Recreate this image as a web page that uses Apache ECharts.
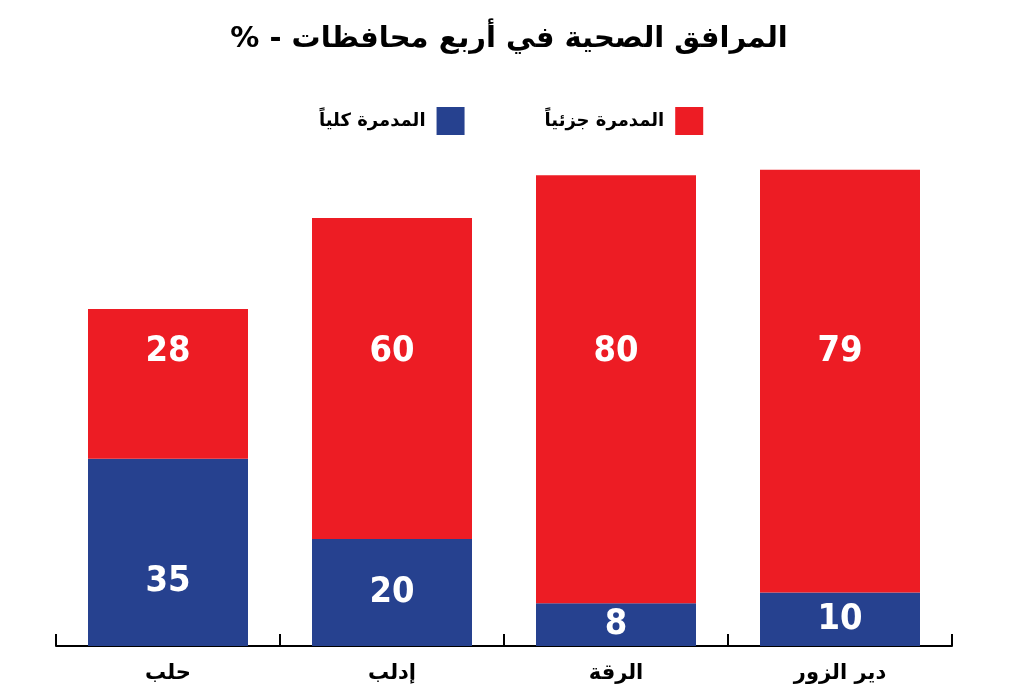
<!DOCTYPE html>
<html>
<head>
<meta charset="utf-8">
<script src="https://cdn.jsdelivr.net/npm/echarts@6/dist/echarts.min.js"></script>
<style>
  html, body { margin: 0; padding: 0; background: #fff; }
  #chart { width: 1018px; height: 700px; }
</style>
</head>
<body>
<div id="chart"></div>
<script>
// governorates, left to right
const categories = ['حلب', 'إدلب', 'الرقة', 'دير الزور'];
// destroyed completely (blue, bottom)
const destroyedFully = [35, 20, 8, 10];
// destroyed partially (red, top)
const destroyedPartly = [28, 60, 80, 79];

const RED = '#ED1C24', BLUE = '#26418F';
const labelLevel = 55; // red numbers sit on one line across all bars

const chart = echarts.init(document.getElementById('chart'));

const numberLabel = {
    show: true,
    color: '#fff',
    opacity: 1,
    fontFamily: 'DejaVu Sans Condensed, DejaVu Sans',
    fontWeight: 'bold',
    fontSize: 36
};

const option = {
    animation: false,
    title: {
        // written in visual order so the % ends up on the left as in print
        text: '% - المرافق الصحية في أربع محافظات',
        left: 'center',
        top: 20,
        textStyle: { fontFamily: 'DejaVu Sans', fontWeight: 'bold', fontSize: 29, color: '#000' }
    },
    legend: {
        data: ['المدمرة كلياً', 'المدمرة جزئياً'],
        top: 102,
        left: 314,
        align: 'right',
        icon: 'rect',
        itemWidth: 28,
        itemHeight: 28,
        itemGap: 80,
        textStyle: { fontFamily: 'DejaVu Sans', fontWeight: 'bold', fontSize: 18, color: '#000', padding: [0, 6, 0, 0] }
    },
    grid: { left: 56, right: 66, top: 111, bottom: 54 },
    xAxis: {
        type: 'category',
        data: categories,
        axisLine: { lineStyle: { color: '#000', width: 2 } },
        axisTick: { show: true, interval: 0, inside: true, length: 12, lineStyle: { color: '#000', width: 2 } },
        axisLabel: { margin: 17, fontFamily: 'DejaVu Sans', fontWeight: 'bold', fontSize: 21, color: '#000' }
    },
    yAxis: {
        type: 'value',
        min: 0,
        max: 100,
        show: false,
        splitLine: { show: false }
    },
    series: [
        {
            name: 'المدمرة كلياً',
            type: 'bar',
            stack: 'total',
            barWidth: 160,
            itemStyle: { color: BLUE },
            label: Object.assign({ position: 'inside' }, numberLabel),
            data: destroyedFully.map((v, i) => i === 0 ? { value: v, label: { offset: [0, 29] } } : v)
        },
        {
            name: 'المدمرة جزئياً',
            type: 'bar',
            stack: 'total',
            barWidth: 160,
            itemStyle: { color: RED },
            label: { show: false },
            data: destroyedPartly
        },
        {
            // invisible anchors carrying the red values at a common height
            type: 'scatter',
            symbolSize: 0,
            silent: true,
            itemStyle: { opacity: 1 },
            label: Object.assign({
                position: 'inside',
                formatter: p => destroyedPartly[p.dataIndex]
            }, numberLabel),
            data: destroyedPartly.map(() => labelLevel),
            z: 5
        }
    ]
};

chart.setOption(option);
</script>
</body>
</html>
